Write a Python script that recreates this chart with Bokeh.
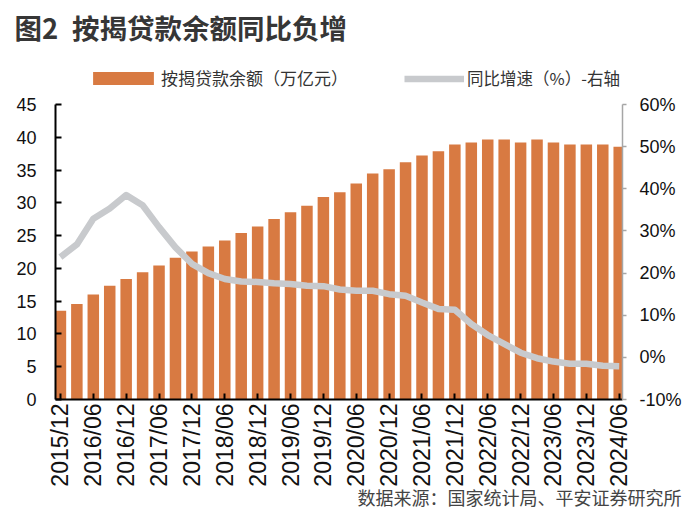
import math
from bokeh.plotting import figure
from bokeh.models import (ColumnDataSource, Range1d, LinearAxis, FixedTicker,
                          PrintfTickFormatter, Title, Legend, LegendItem)
from bokeh.embed import file_html
from bokeh.resources import INLINE

quarters = [
    "2015/12", "2016/03", "2016/06", "2016/09", "2016/12",
    "2017/03", "2017/06", "2017/09", "2017/12",
    "2018/03", "2018/06", "2018/09", "2018/12",
    "2019/03", "2019/06", "2019/09", "2019/12",
    "2020/03", "2020/06", "2020/09", "2020/12",
    "2021/03", "2021/06", "2021/09", "2021/12",
    "2022/03", "2022/06", "2022/09", "2022/12",
    "2023/03", "2023/06", "2023/09", "2023/12",
    "2024/03", "2024/06",
]
# 按揭贷款余额（万亿元）
balance = [
    13.55, 14.57, 16.0, 17.37, 18.4,
    19.41, 20.43, 21.61, 22.58,
    23.34, 24.26, 25.38, 26.4,
    27.52, 28.55, 29.57, 30.89,
    31.61, 32.94, 34.47, 35.13,
    36.2, 37.23, 37.88, 38.91,
    39.22, 39.68, 39.68, 39.22,
    39.68, 39.22, 38.91, 38.91,
    38.91, 38.54,
]
# 同比增速（%）
growth = [
    23.8, 26.8, 32.9, 35.3, 38.5,
    36.1, 30.9, 26.1, 22.2,
    20.0, 18.6, 18.0, 17.9,
    17.6, 17.4, 17.0, 16.9,
    16.1, 15.8, 15.8, 15.0,
    14.6, 13.0, 11.5, 11.3,
    7.9, 5.3, 3.2, 1.1,
    -0.2, -1.0, -1.5, -1.5,
    -2.0, -2.1,
]
left_ticks = [0, 5, 10, 15, 20, 25, 30, 35, 40, 45]
right_ticks = [-10, 0, 10, 20, 30, 40, 50, 60]

title_text = "图2\u2002按揭贷款余额同比负增"
legend_bar = "按揭贷款余额（万亿元）"
legend_line = "同比增速（%）-右轴"
source_text = "数据来源：国家统计局、平安证券研究所"

BAR_COLOR = "#D87A42"
LINE_COLOR = "#C8CACD"
CJK = "Noto Sans CJK SC"

# frame spans canvas y 50..399; axes keep their own bounds (0-45, -10%-60%)
FRAME_TOP, FRAME_BOTTOM = 50, 399
left_px_per_unit = (399 - 104) / 45.0
right_px_per_unit = (399 - 104) / 70.0
left_top = (FRAME_BOTTOM - FRAME_TOP) / left_px_per_unit
right_top = -10 + (FRAME_BOTTOM - FRAME_TOP) / right_px_per_unit

xs = list(range(len(quarters)))
src = ColumnDataSource(dict(x=xs, q=quarters, balance=balance, growth=growth))

p = figure(width=700, height=522, output_backend="svg", toolbar_location=None,
           title=None,
           x_range=Range1d(-0.3, 34.2), y_range=Range1d(0, left_top),
           min_border_left=55, min_border_right=78, min_border_top=FRAME_TOP,
           min_border_bottom=522 - FRAME_BOTTOM)
p.outline_line_color = None
p.xgrid.visible = False
p.ygrid.visible = False
p.extra_y_ranges = {"pct": Range1d(-10, right_top)}

bars = p.vbar(x="x", top="balance", width=0.7, source=src,
              fill_color=BAR_COLOR, line_color=None)
line = p.line(x="x", y="growth", source=src, y_range_name="pct",
              line_color=LINE_COLOR, line_width=6.5, line_join="round")

# bottom axis
xa = p.xaxis[0]
xa.ticker = FixedTicker(ticks=xs[::2], minor_ticks=[])
xa.major_label_overrides = {i: quarters[i] for i in xs[::2]}
xa.major_label_orientation = math.pi / 2
xa.major_label_text_font = "Liberation Sans"
xa.major_label_text_font_size = "23px"
xa.major_label_text_color = "#111111"
xa.major_label_standoff = 4
xa.axis_line_color = "black"
xa.axis_line_width = 2
xa.major_tick_in = 6
xa.major_tick_out = 0
xa.major_tick_line_color = "black"
xa.major_tick_line_width = 2
xa.minor_tick_line_color = None

# left axis
ya = p.yaxis[0]
ya.ticker = FixedTicker(ticks=left_ticks, minor_ticks=[])
ya.bounds = (0, 45)
ya.major_label_text_font = "Liberation Sans"
ya.major_label_text_font_size = "18px"
ya.major_label_text_color = "#111111"
ya.major_label_standoff = 19
ya.axis_line_color = "black"
ya.axis_line_width = 2
ya.major_tick_in = 6
ya.major_tick_out = 0
ya.major_tick_line_color = "black"
ya.major_tick_line_width = 2
ya.minor_tick_line_color = None

# right axis
ra = LinearAxis(y_range_name="pct", bounds=(-10, 60),
                ticker=FixedTicker(ticks=right_ticks, minor_ticks=[]),
                formatter=PrintfTickFormatter(format="%d%%"))
ra.major_label_text_font = "Liberation Sans"
ra.major_label_text_font_size = "18px"
ra.major_label_text_color = "#111111"
ra.major_label_standoff = 13
ra.axis_line_color = "#A6A6A6"
ra.axis_line_width = 1.5
ra.major_tick_in = 0
ra.major_tick_out = 4
ra.major_tick_line_color = "#A6A6A6"
ra.major_tick_line_width = 1.5
ra.minor_tick_line_color = None
p.add_layout(ra, "right")

legend_style = dict(orientation="horizontal", padding=0, margin=0,
                    border_line_color=None, background_fill_alpha=0,
                    label_text_font=CJK, label_text_color="#333333",
                    label_height=14)
leg1 = Legend(items=[LegendItem(label=legend_bar, renderers=[bars])],
              location=(30, 309), glyph_width=76, glyph_height=16,
              label_standoff=-2, label_text_font_size="17px", **legend_style)
leg2 = Legend(items=[LegendItem(label=legend_line, renderers=[line])],
              location=(349, 309), glyph_width=60, glyph_height=13,
              label_standoff=3, label_text_font_size="16.5px", **legend_style)
p.add_layout(leg1)
p.add_layout(leg2)

p.add_layout(Title(text=title_text, align="left", offset=-41, standoff=7,
                   text_font=CJK, text_font_size="27.5px",
                   text_font_style="bold", text_color="#363636"), "above")
p.add_layout(Title(text=source_text, align="right", offset=-59, standoff=-16,
                   text_font=CJK, text_font_size="18px",
                   text_font_style="normal", text_color="#444444"), "below")

open("out.html", "w").write(file_html(p, INLINE))
